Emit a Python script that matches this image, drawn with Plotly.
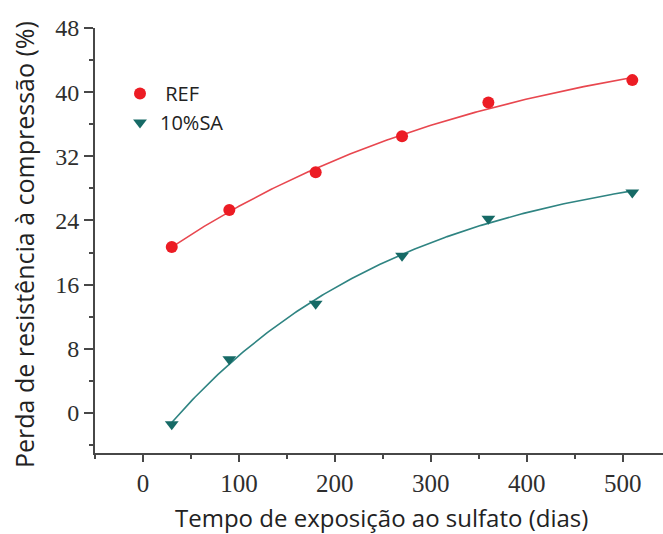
import numpy as np
import plotly.graph_objects as go

# Exposure time to sulfate (days)
dias = [30, 90, 180, 270, 360, 510]
# Compressive strength loss (%)
perda_ref = [20.7, 25.3, 30.0, 34.5, 38.7, 41.5]
perda_sa = [-1.4, 6.7, 13.6, 19.6, 24.2, 27.5]

x_ticks = [0, 100, 200, 300, 400, 500]
y_ticks = [0, 8, 16, 24, 32, 40, 48]

RED = "#ec1c24"
RED_LINE = "#e8474f"
TEAL = "#166a66"
TEAL_LINE = "#2f8482"


def exp_fit(x, y, x_new):
    """Least-squares fit of y = a + b*exp(-x/c), scanning c."""
    x = np.asarray(x, float)
    y = np.asarray(y, float)
    best = None
    for c in np.linspace(50, 3000, 2000):
        A = np.column_stack([np.ones_like(x), np.exp(-x / c)])
        coef, *_ = np.linalg.lstsq(A, y, rcond=None)
        err = np.sum((A @ coef - y) ** 2)
        if best is None or err < best[0]:
            best = (err, c, coef)
    _, c, (a, b) = best
    return a + b * np.exp(-np.asarray(x_new) / c)


x_fit = np.linspace(min(dias), max(dias), 200)
fit_ref = exp_fit(dias, perda_ref, x_fit)
fit_sa = exp_fit(dias, perda_sa, x_fit)

fig = go.Figure()
fig.add_trace(go.Scatter(x=x_fit, y=fit_ref, mode="lines",
                         line=dict(color=RED_LINE, width=1.6),
                         showlegend=False, hoverinfo="skip"))
fig.add_trace(go.Scatter(x=x_fit, y=fit_sa, mode="lines",
                         line=dict(color=TEAL_LINE, width=1.6),
                         showlegend=False, hoverinfo="skip"))
fig.add_trace(go.Scatter(x=dias, y=perda_ref, mode="markers", name="\u00a0REF",
                         marker=dict(symbol="circle", size=12, color=RED)))
fig.add_trace(go.Scatter(x=dias, y=perda_sa, mode="markers", name="10%SA",
                         marker=dict(symbol="triangle-down", size=12, color=TEAL)))

W, H = 663, 534
L, R, T, B = 95, 0, 28, 81
AX = "#474747"
PW, PH = W - L - R, H - T - B

fig.update_layout(
    width=W, height=H,
    margin=dict(l=L, r=R, t=T, b=B),
    paper_bgcolor="white", plot_bgcolor="white",
    font=dict(family="Open Sans", color="#222"),
    legend=dict(x=(120 - L) / PW, y=1 - (74 - T) / PH,
                xanchor="left", yanchor="top",
                font=dict(family="Open Sans", size=20, color="#222"),
                bgcolor="rgba(0,0,0,0)", itemwidth=30, tracegroupgap=0),
    xaxis=dict(range=[-50, 542], tickvals=x_ticks, showgrid=False, zeroline=False,
               showline=True, linecolor=AX, linewidth=2,
               ticks="outside", ticklen=7, tickwidth=2, tickcolor=AX,
               tickfont=dict(family="Liberation Serif", size=25, color="#2e2e2e"),
               minor=dict(dtick=50, tick0=0, ticks="outside", ticklen=4,
                          tickwidth=2, tickcolor=AX, showgrid=False)),
    yaxis=dict(range=[-5, 48], tickvals=y_ticks, showgrid=False, zeroline=False,
               showline=True, linecolor=AX, linewidth=2,
               ticks="outside", ticklen=9, tickwidth=2, tickcolor=AX,
               tickfont=dict(family="Liberation Serif", size=24, color="#2e2e2e"),
               minor=dict(dtick=4, tick0=0, ticks="outside", ticklen=4,
                          tickwidth=2, tickcolor=AX, showgrid=False)),
    annotations=[
        dict(text="Tempo de exposição ao sulfato (dias)", xref="paper", yref="paper",
             x=(381 - L) / PW, y=-(517 - (H - B)) / PH,
             xanchor="center", yanchor="middle", showarrow=False,
             font=dict(family="Open Sans", size=24, color="#222")),
        dict(text="Perda de resistência à compressão (%)", xref="paper", yref="paper",
             x=(24 - L) / PW, y=1 - (245 - T) / PH,
             xanchor="center", yanchor="middle", showarrow=False, textangle=-90,
             font=dict(family="Open Sans", size=25, color="#222")),
    ],
)

fig.write_html("out.html")
